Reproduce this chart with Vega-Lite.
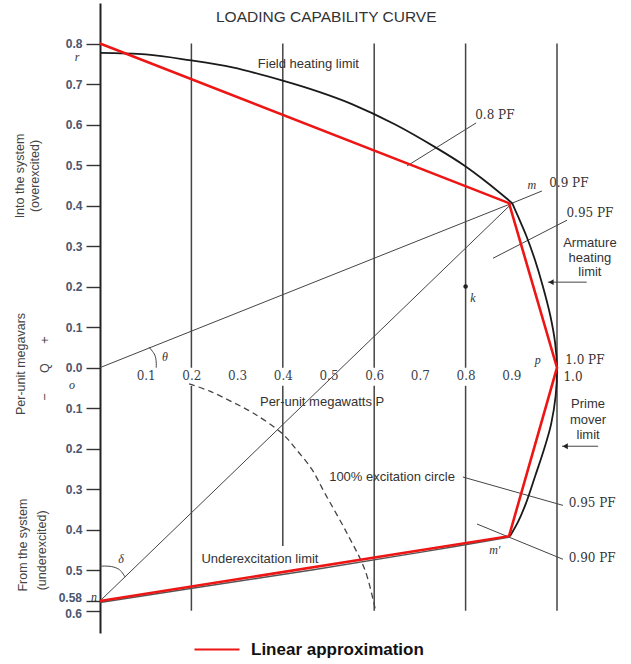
{
  "$schema": "https://vega.github.io/schema/vega-lite/v6.json",
  "width": 457,
  "height": 630,
  "autosize": "none",
  "padding": {"left": 100, "top": 3, "right": 74, "bottom": 31},
  "background": "white",
  "config": {"view": {"stroke": null}},
  "datasets": {
    "hgrid": [{"y": 0.8}, {"y": 0.6}, {"y": 0.4}, {"y": 0.2}, {"y": -0.2}, {"y": -0.4}, {"y": -0.6}],
    "vgrid": [
      {"x": 0.2, "y": 0.8, "y2": 0}, {"x": 0.2, "y": -0.045, "y2": -0.6},
      {"x": 0.4, "y": 0.8, "y2": 0}, {"x": 0.4, "y": -0.045, "y2": -0.44},
      {"x": 0.6, "y": 0.8, "y2": 0}, {"x": 0.6, "y": -0.045, "y2": -0.6},
      {"x": 0.8, "y": 0.8, "y2": 0}, {"x": 0.8, "y": -0.045, "y2": -0.6},
      {"x": 1.0, "y": 0.8, "y2": -0.6}
    ],
    "zero": [{"y": 0}],
    "xticks": [{"x": 0.1}, {"x": 0.3}, {"x": 0.5}, {"x": 0.7}, {"x": 0.9}],
    "segs": [
      {"x": 0, "y": 0, "x2": 0.902, "y2": 0.406},
      {"x": 0, "y": -0.576, "x2": 0.902, "y2": 0.406},
      {"x": 0.672, "y": 0.498, "x2": 0.823, "y2": 0.604},
      {"x": 0.902, "y": 0.406, "x2": 0.967, "y2": 0.436},
      {"x": 0.86, "y": 0.27, "x2": 1.022, "y2": 0.364},
      {"x": 0.794, "y": -0.27, "x2": 1.013, "y2": -0.34},
      {"x": 0.825, "y": -0.386, "x2": 1.013, "y2": -0.473},
      {"x": 0.98, "y": 0.211, "x2": 1.065, "y2": 0.211},
      {"x": 1.011, "y": -0.194, "x2": 1.09, "y2": -0.194}
    ],
    "arcs": [
      {"seg": "theta", "i": 0, "x": 0.107, "y": 0.051},
      {"seg": "theta", "i": 1, "x": 0.12, "y": 0.031},
      {"seg": "theta", "i": 2, "x": 0.123, "y": 0.014},
      {"seg": "theta", "i": 3, "x": 0.123, "y": 0.0},
      {"seg": "delta", "i": 0, "x": 0.0, "y": -0.49},
      {"seg": "delta", "i": 1, "x": 0.025, "y": -0.491},
      {"seg": "delta", "i": 2, "x": 0.043, "y": -0.499},
      {"seg": "delta", "i": 3, "x": 0.055, "y": -0.517}
    ],
    "excitation": [
      {"i": 0, "x": 0.195, "y": -0.04},
      {"i": 1, "x": 0.24, "y": -0.058},
      {"i": 2, "x": 0.29, "y": -0.085},
      {"i": 3, "x": 0.335, "y": -0.112},
      {"i": 4, "x": 0.398, "y": -0.162},
      {"i": 5, "x": 0.431, "y": -0.204},
      {"i": 6, "x": 0.463, "y": -0.25},
      {"i": 7, "x": 0.492, "y": -0.31},
      {"i": 8, "x": 0.543, "y": -0.414},
      {"i": 9, "x": 0.58, "y": -0.5},
      {"i": 10, "x": 0.602, "y": -0.595}
    ],
    "curves": [
      {"seg": "field", "i": 0, "x": 0.0, "y": 0.777},
      {"seg": "field", "i": 1, "x": 0.1, "y": 0.773},
      {"seg": "field", "i": 2, "x": 0.195, "y": 0.759},
      {"seg": "field", "i": 3, "x": 0.29, "y": 0.741},
      {"seg": "field", "i": 4, "x": 0.398, "y": 0.709},
      {"seg": "field", "i": 5, "x": 0.481, "y": 0.68},
      {"seg": "field", "i": 6, "x": 0.55, "y": 0.651},
      {"seg": "field", "i": 7, "x": 0.646, "y": 0.6},
      {"seg": "field", "i": 8, "x": 0.735, "y": 0.543},
      {"seg": "field", "i": 9, "x": 0.797, "y": 0.499},
      {"seg": "field", "i": 10, "x": 0.847, "y": 0.457},
      {"seg": "field", "i": 11, "x": 0.902, "y": 0.406},
      {"seg": "armature", "i": 0, "x": 0.902, "y": 0.406},
      {"seg": "armature", "i": 1, "x": 0.916, "y": 0.37},
      {"seg": "armature", "i": 2, "x": 0.933, "y": 0.325},
      {"seg": "armature", "i": 3, "x": 0.952, "y": 0.265},
      {"seg": "armature", "i": 4, "x": 0.969, "y": 0.201},
      {"seg": "armature", "i": 5, "x": 0.986, "y": 0.125},
      {"seg": "armature", "i": 6, "x": 0.996, "y": 0.06},
      {"seg": "armature", "i": 7, "x": 1.0, "y": 0.0},
      {"seg": "armature", "i": 8, "x": 0.997, "y": -0.07},
      {"seg": "armature", "i": 9, "x": 0.987, "y": -0.14},
      {"seg": "armature", "i": 10, "x": 0.972, "y": -0.2},
      {"seg": "armature", "i": 11, "x": 0.953, "y": -0.265},
      {"seg": "armature", "i": 12, "x": 0.932, "y": -0.335},
      {"seg": "armature", "i": 13, "x": 0.915, "y": -0.38},
      {"seg": "armature", "i": 14, "x": 0.897, "y": -0.416},
      {"seg": "under", "i": 0, "x": 0.897, "y": -0.418},
      {"seg": "under", "i": 1, "x": 0.7, "y": -0.456},
      {"seg": "under", "i": 2, "x": 0.46, "y": -0.5},
      {"seg": "under", "i": 3, "x": 0.195, "y": -0.546},
      {"seg": "under", "i": 4, "x": 0.0, "y": -0.58}
    ],
    "red": [
      {"i": 0, "x": 0.0, "y": 0.8, "s": "Linear approximation"},
      {"i": 1, "x": 0.895, "y": 0.406, "s": "Linear approximation"},
      {"i": 2, "x": 1.0, "y": 0.0, "s": "Linear approximation"},
      {"i": 3, "x": 0.895, "y": -0.416, "s": "Linear approximation"},
      {"i": 4, "x": 0.0, "y": -0.576, "s": "Linear approximation"}
    ],
    "heads": [{"x": 0.987, "y": 0.211}, {"x": 1.018, "y": -0.194}],
    "kpt": [{"x": 0.8, "y": 0.2}],
    "txt": [
      {"g": "title", "x": 0.495, "y": 0.865, "t": "LOADING CAPABILITY CURVE"},
      {"g": "sans", "x": 0.456, "y": 0.749, "t": "Field heating limit"},
      {"g": "sans", "x": 0.486, "y": -0.085, "t": "Per-unit megawatts P"},
      {"g": "sans", "x": 0.35, "y": -0.473, "t": "Underexcitation limit"},
      {"g": "sans", "x": 0.639, "y": -0.27, "t": "100% excitation circle"},
      {"g": "sans", "x": 1.072, "y": 0.307, "t": "Armature"},
      {"g": "sans", "x": 1.072, "y": 0.27, "t": "heating"},
      {"g": "sans", "x": 1.072, "y": 0.236, "t": "limit"},
      {"g": "sans", "x": 1.068, "y": -0.09, "t": "Prime"},
      {"g": "sans", "x": 1.068, "y": -0.13, "t": "mover"},
      {"g": "sans", "x": 1.068, "y": -0.167, "t": "limit"},
      {"g": "pf", "x": 0.864, "y": 0.623, "t": "0.8 PF"},
      {"g": "pf", "x": 1.026, "y": 0.456, "t": "0.9 PF"},
      {"g": "pf", "x": 1.072, "y": 0.381, "t": "0.95 PF"},
      {"g": "pf", "x": 1.061, "y": 0.019, "t": "1.0 PF"},
      {"g": "pf", "x": 1.035, "y": -0.023, "t": "1.0"},
      {"g": "pf", "x": 1.077, "y": -0.335, "t": "0.95 PF"},
      {"g": "pf", "x": 1.077, "y": -0.47, "t": "0.90 PF"},
      {"g": "ylab", "x": -0.0394, "y": -0.569, "t": "0.58"},
      {"g": "ylab", "x": -0.0394, "y": -0.607, "t": "0.6"},
      {"g": "ital", "x": -0.05, "y": 0.766, "t": "r"},
      {"g": "ital", "x": 0.945, "y": 0.451, "t": "m"},
      {"g": "ital", "x": 0.864, "y": -0.451, "t": "m′"},
      {"g": "ital", "x": 0.816, "y": 0.171, "t": "k"},
      {"g": "ital", "x": 0.958, "y": 0.019, "t": "p"},
      {"g": "ital", "x": -0.013, "y": -0.567, "t": "n"},
      {"g": "ital", "x": 0.142, "y": 0.026, "t": "θ"},
      {"g": "ital", "x": 0.046, "y": -0.473, "t": "δ"},
      {"g": "ital", "x": -0.061, "y": -0.043, "t": "o"},
      {"g": "rot", "x": -0.175, "y": 0.473, "t": "Into the system"},
      {"g": "rot", "x": -0.142, "y": 0.473, "t": "(overexcited)"},
      {"g": "rot", "x": -0.173, "y": 0.009, "t": "Per-unit megavars"},
      {"g": "rot", "x": -0.12, "y": 0.068, "t": "+"},
      {"g": "rot", "x": -0.12, "y": -0.001, "t": "Q"},
      {"g": "rot", "x": -0.12, "y": -0.073, "t": "−"},
      {"g": "rot", "x": -0.168, "y": -0.438, "t": "From the system"},
      {"g": "rot", "x": -0.127, "y": -0.451, "t": "(underexcited)"}
    ]
  },
  "encoding": {
    "x": {
      "field": "x", "type": "quantitative",
      "scale": {"domain": [0, 1], "nice": false, "zero": false},
      "axis": {
        "orient": "bottom", "offset": -265.4, "title": null, "grid": false,
        "domain": false, "ticks": false, "values": [0.1, 0.2, 0.3, 0.4, 0.5, 0.6, 0.7, 0.8, 0.9],
        "format": ".1f", "labelFont": "DejaVu Serif", "labelFontSize": 12, "labelColor": "#3a3f4a",
        "labelPadding": 3, "labelFlush": false, "labelOverlap": false
      }
    },
    "y": {
      "field": "y", "type": "quantitative",
      "scale": {"domain": [-0.655, 0.9], "nice": false, "zero": false},
      "axis": {
        "orient": "left", "title": null, "grid": false,
        "values": [0.8, 0.7, 0.6, 0.5, 0.4, 0.3, 0.2, 0.1, 0, -0.1, -0.2, -0.3, -0.4, -0.5, -0.576, -0.6],
        "labelExpr": "datum.value < -0.55 ? '' : format(abs(datum.value), '.1f')",
        "domainColor": "#222", "domainWidth": 2,
        "tickColor": "#333", "tickWidth": 1.4, "tickSize": 14,
        "labelFont": "Liberation Sans", "labelFontSize": 12, "labelFontWeight": "bold",
        "labelColor": "#4a5670", "labelPadding": 4, "labelOverlap": false, "labelFlush": false
      }
    }
  },
  "layer": [
    {"data": {"name": "hgrid"}, "mark": {"type": "rule", "color": "#2a2a2a", "strokeWidth": 1.6},
     "encoding": {"x": {"datum": 0}, "x2": {"datum": 1}}},
    {"data": {"name": "vgrid"}, "mark": {"type": "rule", "color": "#444", "strokeWidth": 1.5},
     "encoding": {"y2": {"field": "y2"}}},
    {"data": {"name": "zero"}, "mark": {"type": "rule", "color": "#666", "strokeWidth": 1.2},
     "encoding": {"x": {"datum": 0}, "x2": {"datum": 1}}},
    {"data": {"name": "xticks"}, "mark": {"type": "rule", "color": "#555", "strokeWidth": 1.2},
     "encoding": {"y": {"datum": 0}, "y2": {"datum": 0.026}}},
    {"data": {"name": "segs"}, "mark": {"type": "rule", "color": "#444", "strokeWidth": 1},
     "encoding": {"x2": {"field": "x2"}, "y2": {"field": "y2"}}},
    {"data": {"name": "arcs"}, "mark": {"type": "line", "color": "#444", "strokeWidth": 1, "interpolate": "catmull-rom"},
     "encoding": {"detail": {"field": "seg"}, "order": {"field": "i"}}},
    {"data": {"name": "excitation"}, "mark": {"type": "line", "color": "#444", "strokeWidth": 1.3, "strokeDash": [6, 4], "interpolate": "catmull-rom"},
     "encoding": {"order": {"field": "i"}}},
    {"data": {"name": "curves"}, "transform": [{"filter": "datum.seg != 'under'"}],
     "mark": {"type": "line", "color": "#1a1a1a", "strokeWidth": 1.8, "interpolate": "catmull-rom"},
     "encoding": {"detail": {"field": "seg"}, "order": {"field": "i"}}},
    {"data": {"name": "curves"}, "transform": [{"filter": "datum.seg == 'under'"}],
     "mark": {"type": "line", "color": "#555", "strokeWidth": 1.5, "interpolate": "catmull-rom"},
     "encoding": {"order": {"field": "i"}}},
    {"data": {"name": "red"}, "mark": {"type": "line", "strokeWidth": 2.6},
     "encoding": {
       "order": {"field": "i"},
       "color": {"field": "s", "type": "nominal",
         "scale": {"domain": ["Linear approximation"], "range": ["#ee1515"]},
         "legend": {"orient": "none", "legendX": 93, "legendY": 622.5, "title": null, "padding": 0,
           "symbolType": "stroke", "symbolSize": 2025, "symbolStrokeWidth": 2.2,
           "labelFont": "Liberation Sans", "labelFontSize": 17, "labelFontWeight": "bold",
           "labelColor": "#111", "labelOffset": 10, "labelLimit": 400}}
     }},
    {"data": {"name": "heads"}, "mark": {"type": "point", "shape": "triangle-left", "filled": true, "color": "#222", "size": 35, "opacity": 1}},
    {"data": {"name": "kpt"}, "mark": {"type": "point", "shape": "circle", "filled": true, "color": "#222", "size": 20, "opacity": 1}},
    {"data": {"name": "txt"}, "transform": [{"filter": "datum.g == 'title'"}],
     "mark": {"type": "text", "font": "Liberation Sans", "fontSize": 15.5, "color": "#333", "align": "center", "baseline": "middle"},
     "encoding": {"text": {"field": "t"}}},
    {"data": {"name": "txt"}, "transform": [{"filter": "datum.g == 'sans'"}],
     "mark": {"type": "text", "font": "Liberation Sans", "fontSize": 13, "color": "#333", "align": "center", "baseline": "middle"},
     "encoding": {"text": {"field": "t"}}},
    {"data": {"name": "txt"}, "transform": [{"filter": "datum.g == 'pf'"}],
     "mark": {"type": "text", "font": "DejaVu Serif", "fontSize": 12, "color": "#333", "align": "center", "baseline": "middle"},
     "encoding": {"text": {"field": "t"}}},
    {"data": {"name": "txt"}, "transform": [{"filter": "datum.g == 'ylab'"}],
     "mark": {"type": "text", "font": "Liberation Sans", "fontSize": 12, "fontWeight": "bold", "color": "#4a5670", "align": "right", "baseline": "middle"},
     "encoding": {"text": {"field": "t"}}},
    {"data": {"name": "txt"}, "transform": [{"filter": "datum.g == 'ital'"}],
     "mark": {"type": "text", "font": "Liberation Serif", "fontStyle": "italic", "fontSize": 12, "color": "#333", "align": "center", "baseline": "middle"},
     "encoding": {"text": {"field": "t"}}},
    {"data": {"name": "txt"}, "transform": [{"filter": "datum.g == 'rot'"}],
     "mark": {"type": "text", "font": "Liberation Sans", "fontSize": 12.5, "color": "#444", "align": "center", "baseline": "middle", "angle": 270},
     "encoding": {"text": {"field": "t"}}}
  ]
}
